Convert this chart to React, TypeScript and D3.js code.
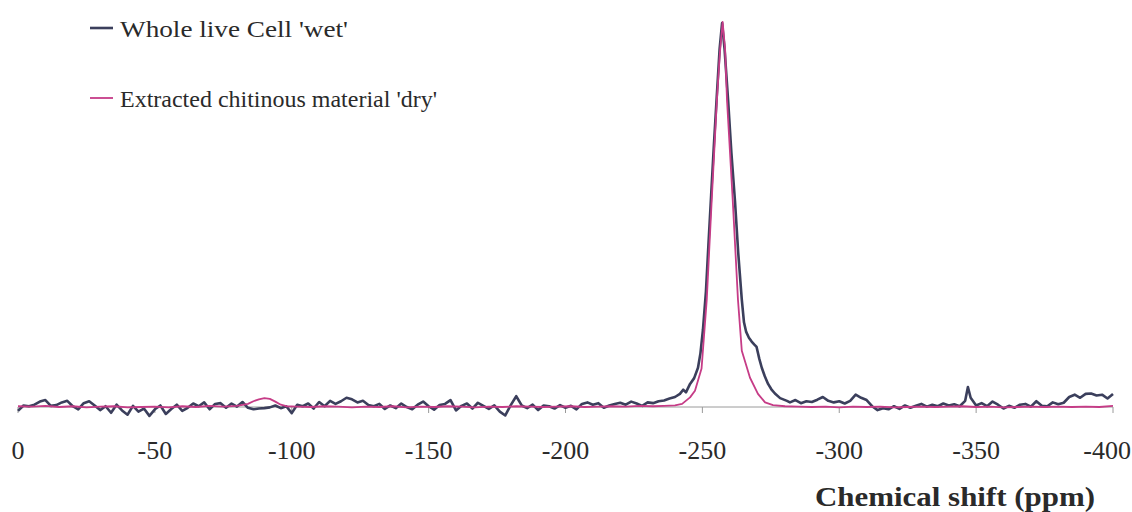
import React from "react";
import * as d3 from "d3";

// Whole live cell 'wet' (navy) — chemical shift (ppm) and relative intensity
const wetShift: number[] = [
  0, -2, -4, -6, -8, -10, -12, -14, -16, -18, -20, -22, -24, -26, -28, -30, -32, -34, -36, -38,
  -40, -42, -44, -46, -48, -50, -52, -54, -56, -58, -60, -62, -64, -66, -68, -70, -72, -74, -76, -78,
  -80, -82, -84, -86, -88, -90, -92, -94, -96, -98, -100, -102, -104, -106, -108, -110, -112, -114, -116, -118,
  -120, -122, -124, -126, -128, -130, -132, -134, -136, -138, -140, -142, -144, -146, -148, -150, -152, -154, -156, -158,
  -160, -162, -164, -166, -168, -170, -172, -174, -176, -178, -180, -182, -184, -186, -188, -190, -192, -194, -196, -198,
  -200, -202, -204, -206, -208, -210, -212, -214, -216, -218, -220, -222, -224, -226, -228, -230, -232, -234, -236, -238,
  -240, -241.8, -243, -244, -245.5, -247, -248.4, -249.3, -250.2, -251.3, -252.2, -253.2, -254.2, -255.2, -256.3, -257.2,
  -258.1, -259.4, -260.6, -261.9, -263.1, -264.4, -265.2, -266, -267, -268, -269, -269.8, -270.8, -271.7, -272.8, -274,
  -275.2, -276.5, -278.4, -280.9,
  -282, -284, -286, -288, -290, -292, -294, -296, -298, -300, -302, -304, -306, -308, -310, -312, -314, -316, -318, -320,
  -322, -324, -326, -328, -330, -332, -334, -336, -338, -340, -342, -344, -346, -347, -348, -350, -352, -354, -356, -358,
  -360, -362, -364, -366, -368, -370, -372, -374, -376, -378, -380, -382, -384, -386, -388, -390, -392, -394, -396, -398, -400,
];
const wetIntensity: number[] = [
  -1.0, 0.4, 0.2, 0.6, 1.4, 1.8, 0.3, 0.5, 1.2, 1.6, 0.2, -0.6, 1.0, 1.5, 0.4, -0.8, 0.2, -1.5, 0.6, -0.9,
  -2.0, 0.3, -1.2, -0.4, -2.3, -0.6, 0.4, -1.8, -0.5, 0.6, -1.0, -0.2, 0.9, 0.2, 1.2, -0.6, 0.8, 1.0, -0.2, 0.9,
  0.1, 1.3, -0.2, -0.6, -0.4, -0.3, -0.1, 0.4, -0.3, 0.2, -1.6, 0.6, 0.2, 0.9, -0.4, 1.3, 0.2, 1.6, 0.8, 1.5,
  2.4, 2.0, 1.2, 1.6, 0.5, 0.2, 0.8, -0.5, 0.4, -0.3, 0.9, 0.0, -0.6, 0.6, 1.4, 0.2, -0.7, 0.5, 0.8, 1.8,
  -0.9, 0.3, 0.9, -0.4, 1.1, 0.3, -0.5, 0.4, -1.2, -2.2, 0.5, 2.8, 0.4, -0.3, 0.6, -0.8, 0.4, 0.2, -0.4, 0.5,
  -0.2, 0.3, -0.6, 0.8, 1.2, 0.6, 1.0, -0.2, 0.4, 0.8, 1.1, 0.6, 1.4, 0.9, 0.3, 1.2, 1.0, 1.5, 1.7, 2.2,
  2.6, 3.4, 4.5, 3.8, 6.0, 7.5, 10.2, 14, 20, 30, 42, 55, 68, 80, 93, 99.7,
  93, 79.7, 66, 53.6, 40, 27.9, 22, 19.5, 18, 17, 16.2, 15.6, 12.5, 10.2, 8, 6,
  4.6, 3.5, 2.3, 1.6,
  1.2, 1.8, 1.0, 1.5, 1.3, 1.9, 2.6, 1.6, 1.2, 1.5, 0.9, 1.6, 3.2, 2.4, 1.8, 0.2, -0.8, -0.3, -0.6, 0.2,
  -0.5, 0.4, -0.2, 0.3, 0.8, 0.1, 0.6, 0.2, 0.9, 0.4, 0.7, 0.2, 1.6, 5.2, 2.4, 0.4, 1.0, 0.2, 1.4, 0.6,
  -0.4, 0.3, -0.2, 0.6, 0.8, 0.1, 1.5, 0.3, 0.2, 1.2, 0.7, 1.1, 2.6, 3.2, 2.4, 3.4, 3.5, 3.0, 3.2, 2.2, 3.4,
];

// Extracted chitinous material 'dry' (magenta)
const dryShift: number[] = [
  0, -5, -10, -15, -20, -25, -30, -35, -40, -45, -50, -55, -60, -65, -70, -75, -80, -84, -86, -88,
  -90, -92, -94, -96, -98, -102, -107, -112, -117, -122, -127, -132, -137, -142, -147, -152, -157, -162, -167, -172,
  -177, -182, -187, -192, -197, -202, -207, -212, -217, -222, -227, -232, -236, -240,
  -242.6, -245.5, -247.3, -249.7, -251.6, -253.4, -255.3, -256.4, -257.4, -258.3, -259, -261.1, -263, -264.4, -267.4, -270.3,
  -272.9, -275.8, -280.2,
  -285, -290, -295, -300, -305, -310, -315, -320, -325, -330, -335, -340, -345, -350, -355, -360, -365, -370, -375, -380,
  -385, -390, -395, -400,
];
const dryIntensity: number[] = [
  0.2, 0.1, 0.3, 0.0, 0.2, -0.1, 0.1, 0.2, -0.1, 0.0, 0.1, -0.1, 0.2, 0.0, 0.3, 0.1, 0.3, 0.8, 1.5, 2.0,
  2.3, 2.1, 1.4, 0.6, 0.2, 0.1, 0.0, 0.2, 0.1, -0.1, 0.1, 0.0, 0.2, -0.1, 0.1, 0.0, 0.2, 0.1, -0.1, 0.1,
  0.0, 0.2, 0.1, 0.0, 0.1, 0.2, 0.0, 0.1, 0.2, 0.1, 0.3, 0.2, 0.3, 0.4,
  0.8, 2.5, 4.2, 10, 27.9, 53.6, 79.7, 92, 100, 93, 79.7, 53.6, 27.9, 14.6, 7.6, 3.4,
  1.2, 0.5, 0.2,
  0.1, 0.0, 0.1, -0.1, 0.1, 0.0, 0.1, -0.1, 0.0, 0.1, 0.0, 0.1, 0.2, 0.0, 0.1, -0.1, 0.0, 0.1, 0.0, 0.1,
  0.0, 0.1, 0.0, 0.3,
];

const xTicks: number[] = [0, -50, -100, -150, -200, -250, -300, -350, -400];
const legendLabels: string[] = ["Whole live Cell 'wet'", "Extracted chitinous material 'dry'"];
const axisTitle = "Chemical shift (ppm)";

const W = 1132;
const H = 512;
const NAVY = "#3b3f5c";
const MAGENTA = "#c63c87";
const SERIF = "'Liberation Serif', 'DejaVu Serif', serif";
const LEGEND_WIDTHS = [228, 317];

export default function App() {
  const x = d3.scaleLinear().domain([0, -400]).range([18, 1113]);
  const y = d3.scaleLinear().domain([0, 100]).range([407, 22]);

  const line = d3
    .line<[number, number]>()
    .x((d) => x(d[0]))
    .y((d) => y(d[1]));

  const wet = wetShift.map((s, i) => [s, wetIntensity[i]] as [number, number]);
  const dry = dryShift.map((s, i) => [s, dryIntensity[i]] as [number, number]);

  const textStyle = { fontFamily: SERIF };

  return (
    <svg
      width={W}
      height={H}
      style={{ position: "absolute", left: 0, top: 0, background: "#fff" }}
    >
      {/* axis */}
      <line x1={x(0)} x2={x(-400)} y1={y(0)} y2={y(0)} stroke="#9a9a9a" strokeWidth={1} />
      {xTicks.map((t) => {
        const last = t === -400;
        return (
          <g key={t}>
            <line x1={x(t)} x2={x(t)} y1={y(0)} y2={y(0) + 6} stroke="#9a9a9a" strokeWidth={1} />
            <text
              x={last ? 1131 : x(t)}
              y={459}
              textAnchor={last ? "end" : "middle"}
              style={textStyle}
              fontSize={26}
              fill="#2a2a2a"
            >
              {t}
            </text>
          </g>
        );
      })}
      <text
        x={815}
        y={506}
        style={textStyle}
        fontWeight="bold"
        fontSize={27}
        fill="#2a2a2a"
        textLength={280}
        lengthAdjust="spacingAndGlyphs"
      >
        {axisTitle}
      </text>

      {/* series */}
      <path d={line(wet) || ""} fill="none" stroke={NAVY} strokeWidth={2.6} strokeLinejoin="round" />
      <path d={line(dry) || ""} fill="none" stroke={MAGENTA} strokeWidth={1.8} strokeLinejoin="round" />

      {/* legend */}
      {legendLabels.map((lab, i) => (
        <g key={lab} transform={`translate(0, ${i * 70})`}>
          <line x1={90} x2={113} y1={28} y2={28} stroke={i === 0 ? NAVY : MAGENTA} strokeWidth={i === 0 ? 2.6 : 1.8} />
          <text
            x={120}
            y={37}
            style={textStyle}
            fontSize={24}
            fill="#2a2a2a"
            textLength={LEGEND_WIDTHS[i]}
            lengthAdjust="spacingAndGlyphs"
          >
            {lab}
          </text>
        </g>
      ))}
    </svg>
  );
}
